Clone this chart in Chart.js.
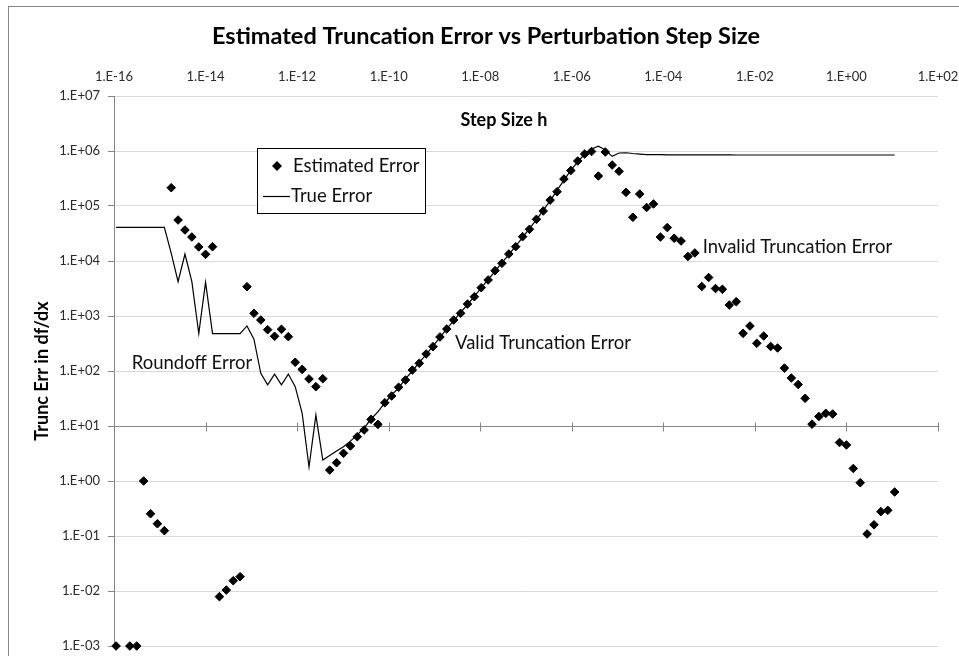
<!DOCTYPE html>
<html>
<head>
<meta charset="utf-8">
<script src="https://cdn.jsdelivr.net/npm/chart.js@4.4.1/dist/chart.umd.min.js"></script>
<style>
  html, body { margin: 0; padding: 0; background: #fff; }
  canvas { display: block; }
</style>
</head>
<body>
<canvas id="chart" width="959" height="656"></canvas>
<script>
// Perturbation step sizes h (2^-53 up to 2^3.5, half-power-of-two steps)
const stepSizes = [
  1.11e-16, 1.57e-16, 2.22e-16, 3.14e-16, 4.44e-16, 6.28e-16, 8.88e-16, 1.26e-15, 1.78e-15, 2.51e-15,
  3.55e-15, 5.02e-15, 7.11e-15, 1.00e-14, 1.42e-14, 2.01e-14, 2.84e-14, 4.02e-14, 5.68e-14, 8.04e-14,
  1.14e-13, 1.61e-13, 2.27e-13, 3.22e-13, 4.55e-13, 6.43e-13, 9.09e-13, 1.29e-12, 1.82e-12, 2.57e-12,
  3.64e-12, 5.15e-12, 7.28e-12, 1.03e-11, 1.46e-11, 2.06e-11, 2.91e-11, 4.12e-11, 5.82e-11, 8.23e-11,
  1.16e-10, 1.65e-10, 2.33e-10, 3.29e-10, 4.66e-10, 6.59e-10, 9.31e-10, 1.32e-9, 1.86e-9, 2.63e-9,
  3.73e-9, 5.27e-9, 7.45e-9, 1.05e-8, 1.49e-8, 2.11e-8, 2.98e-8, 4.22e-8, 5.96e-8, 8.43e-8,
  1.19e-7, 1.69e-7, 2.38e-7, 3.37e-7, 4.77e-7, 6.74e-7, 9.54e-7, 1.35e-6, 1.91e-6, 2.70e-6,
  3.81e-6, 5.39e-6, 7.63e-6, 1.08e-5, 1.53e-5, 2.16e-5, 3.05e-5, 4.32e-5, 6.10e-5, 8.63e-5,
  1.22e-4, 1.73e-4, 2.44e-4, 3.45e-4, 4.88e-4, 6.91e-4, 9.77e-4, 1.38e-3, 1.95e-3, 2.76e-3,
  3.91e-3, 5.52e-3, 7.81e-3, 1.10e-2, 1.56e-2, 2.21e-2, 3.13e-2, 4.42e-2, 6.25e-2, 8.84e-2,
  0.125, 0.177, 0.25, 0.354, 0.5, 0.707, 1, 1.41, 2, 2.83,
  4, 5.66, 8, 11.3
];

// Estimated truncation error of df/dx at each step size (null = not plotted)
const estimatedError = [
  0.001, null, 0.001, 0.001, 1.0, 0.254, 0.167, 0.125, 2.15e5, 5.56e4,
  3.66e4, 2.73e4, 1.80e4, 1.32e4, 1.82e4, 7.9e-3, 1.04e-2, 1.54e-2, 1.82e-2, 3410,
  1120, 845, 564, 428, 573, 421, 144, 107, 71.6, 51.9,
  72.4, 1.58, 2.15, 3.19, 4.33, 6.38, 8.46, 13.2, 10.7, 26.5,
  35.1, 50.6, 68.6, 104, 138, 204, 277, 415, 580, 845,
  1120, 1650, 2240, 3270, 4520, 6670, 9080, 13400, 18200, 27700,
  37700, 57300, 81100, 128000, 182000, 310000, 442000, 658000, 881000, 980000,
  351000, 959000, 556000, 428000, 177000, 62400, 165000, 94000, 109000, 27300,
  40600, 25900, 23100, 12100, 14000, 3440, 5010, 3160, 3060, 1580,
  1820, 484, 658, 319, 433, 279, 262, 113, 74.6, 56.9,
  31.9, 10.8, 14.9, 17.0, 16.5, 5.01, 4.52, 1.69, 0.931, 0.109,
  0.160, 0.277, 0.293, 0.631
];

// True error of df/dx at each step size
const trueError = [
  41000, 41000, 41000, 41000, 41000, 41000, 41000, 41000, 13800, 4200,
  13400, 4200, 480, 4100, 480, 480, 480, 480, 480, 660,
  380, 91, 56, 88, 56, 88, 52, 17, 1.8, 15.8,
  2.4, 2.9, 3.5, 4.2, 5.3, 6.9, 9.2, 13.4, 18, 26.2,
  36.6, 49.5, 71.6, 100, 143, 198, 285, 405, 587, 818,
  1160, 1600, 2300, 3210, 4610, 6500, 9310, 13000, 18900, 26600,
  39200, 55900, 84100, 124000, 194000, 292000, 448000, 637000, 881000, 1090000,
  1220000, 1040000, 800000, 920000, 930000, 900000, 880000, 860000, 860000, 860000,
  850000, 850000, 850000, 850000, 850000, 850000, 850000, 850000, 850000, 850000,
  845000, 845000, 845000, 845000, 845000, 845000, 845000, 845000, 845000, 845000,
  845000, 845000, 845000, 845000, 845000, 845000, 845000, 845000, 845000, 845000,
  845000, 845000, 845000, 845000
];

const xTickValues = [1e-16, 1e-14, 1e-12, 1e-10, 1e-8, 1e-6, 1e-4, 1e-2, 1e0, 1e2];
const xTickLabels = ['1.E-16', '1.E-14', '1.E-12', '1.E-10', '1.E-08', '1.E-06', '1.E-04', '1.E-02', '1.E+00', '1.E+02'];
const yTickValues = [1e-3, 1e-2, 1e-1, 1e0, 1e1, 1e2, 1e3, 1e4, 1e5, 1e6, 1e7];
const yTickLabels = ['1.E-03', '1.E-02', '1.E-01', '1.E+00', '1.E+01', '1.E+02', '1.E+03', '1.E+04', '1.E+05', '1.E+06', '1.E+07'];

// The horizontal (step size) axis crosses the error axis at this value
const xAxisCrossing = 10;

const chartTitle = 'Estimated Truncation Error vs Perturbation Step Size';
const xAxisTitle = 'Step Size h';
const yAxisTitle = 'Trunc Err in df/dx';

// Region notes, anchored in data coordinates (left edge, vertical middle)
const regionNotes = [
  { text: 'Roundoff Error', h: 2.44e-16, err: 137 },
  { text: 'Valid Truncation Error', h: 2.81e-9, err: 327 },
  { text: 'Invalid Truncation Error', h: 7.23e-4, err: 1.82e4 }
];

const FONT = 'Lato, "Open Sans", "Liberation Sans", sans-serif';

const estimatedPoints = [];
stepSizes.forEach((h, i) => {
  if (estimatedError[i] !== null) estimatedPoints.push({ x: h, y: estimatedError[i] });
});
const truePoints = stepSizes.map((h, i) => ({ x: h, y: trueError[i] }));

function diamond(ctx, x, y, r) {
  ctx.beginPath();
  ctx.moveTo(x - r, y);
  ctx.lineTo(x, y - r);
  ctx.lineTo(x + r, y);
  ctx.lineTo(x, y + r);
  ctx.closePath();
  ctx.fill();
}

// Keep tick labels from widening the plot margins
function noOverhang(s) {
  s.paddingLeft = 0;
  s.paddingRight = 0;
  s.paddingTop = 0;
  s.paddingBottom = 0;
}

const decorations = {
  id: 'decorations',
  beforeDraw(chart) {
    const { ctx, width, height } = chart;
    ctx.save();
    ctx.fillStyle = '#ffffff';
    ctx.fillRect(0, 0, width, height);
    ctx.strokeStyle = '#8a8a8a';
    ctx.lineWidth = 1;
    ctx.strokeRect(8.5, 6.5, width + 20, height + 20);
    ctx.restore();
  },
  beforeDatasetsDraw(chart) {
    const { ctx, chartArea, scales: { x, y } } = chart;
    const yy = Math.round(y.getPixelForValue(xAxisCrossing)) + 0.5;
    ctx.save();
    ctx.strokeStyle = '#868686';
    ctx.lineWidth = 1;
    ctx.beginPath();
    ctx.moveTo(chartArea.left, yy);
    ctx.lineTo(chartArea.right, yy);
    xTickValues.forEach(v => {
      const px = Math.round(x.getPixelForValue(v)) + 0.5;
      ctx.moveTo(px, yy - 4);
      ctx.lineTo(px, yy + 5);
    });
    ctx.stroke();
    ctx.restore();
  },
  afterDraw(chart) {
    const { ctx, chartArea, scales: { x, y } } = chart;
    ctx.save();
    ctx.fillStyle = '#000';

    // Title
    ctx.font = 'bold 23.5px ' + FONT;
    ctx.textAlign = 'center';
    ctx.textBaseline = 'middle';
    ctx.fillText(chartTitle, 486, 36);

    // Axis titles
    ctx.font = 'bold 18px ' + FONT;
    ctx.fillText(xAxisTitle, 504, 120);
    ctx.save();
    ctx.translate(42, (chartArea.top + chartArea.bottom) / 2);
    ctx.rotate(-Math.PI / 2);
    ctx.fillText(yAxisTitle, 0, 0);
    ctx.restore();

    // Region notes
    ctx.font = '18.5px ' + FONT;
    ctx.textAlign = 'left';
    ctx.fillStyle = '#111';
    regionNotes.forEach(n => {
      ctx.fillText(n.text, x.getPixelForValue(n.h), y.getPixelForValue(n.err));
    });

    // Legend
    const ds = chart.data.datasets;
    const lx = 257.5, ly = 148.5, lw = 168, lh = 65;
    ctx.fillStyle = '#fff';
    ctx.fillRect(lx, ly, lw, lh);
    ctx.strokeStyle = '#000';
    ctx.lineWidth = 1;
    ctx.strokeRect(lx, ly, lw, lh);
    ctx.fillStyle = '#000';
    diamond(ctx, 277, 166, 5);
    ctx.beginPath();
    ctx.moveTo(263, 196.5);
    ctx.lineTo(290, 196.5);
    ctx.lineWidth = 1.2;
    ctx.stroke();
    ctx.font = '18.5px ' + FONT;
    ctx.fillStyle = '#111';
    ctx.fillText(ds[0].label, 293, 166);
    ctx.fillText(ds[1].label, 291, 196);
    ctx.restore();
  }
};

new Chart(document.getElementById('chart'), {
  type: 'scatter',
  data: {
    datasets: [
      {
        label: 'Estimated Error',
        data: estimatedPoints,
        pointStyle: 'rectRot',
        pointRadius: 4.3,
        pointBorderWidth: 1,
        backgroundColor: '#000',
        borderColor: '#000',
        showLine: false,
        clip: false
      },
      {
        label: 'True Error',
        data: truePoints,
        showLine: true,
        borderColor: '#000',
        borderWidth: 1.2,
        pointRadius: 0,
        tension: 0,
        clip: false
      }
    ]
  },
  options: {
    responsive: false,
    animation: false,
    devicePixelRatio: 1,
    layout: { padding: { left: 0, right: 21, top: 0, bottom: 10 } },
    plugins: {
      legend: { display: false },
      tooltip: { enabled: false },
      title: { display: false }
    },
    scales: {
      x: {
        type: 'logarithmic',
        position: 'top',
        min: 1e-16,
        max: 1e2,
        grid: { display: false },
        border: { display: false },
        ticks: {
          autoSkip: false,
          maxRotation: 0,
          padding: 3,
          color: '#2a2a2a',
          font: { family: FONT, size: 13 },
          callback: (v, i) => xTickLabels[i]
        },
        afterBuildTicks: s => { s.ticks = xTickValues.map(v => ({ value: v })); },
        afterFit: s => { s.height = 96; noOverhang(s); }
      },
      y: {
        type: 'logarithmic',
        position: 'left',
        min: 1e-3,
        max: 1e7,
        grid: { color: '#d9d9d9', tickColor: '#868686', tickLength: 6, lineWidth: 1 },
        border: { color: '#868686', width: 1 },
        ticks: {
          autoSkip: false,
          padding: 8,
          color: '#2a2a2a',
          font: { family: FONT, size: 13 },
          callback: (v, i) => yTickLabels[i]
        },
        afterBuildTicks: s => { s.ticks = yTickValues.map(v => ({ value: v })); },
        afterFit: s => { s.width = 114; noOverhang(s); }
      }
    }
  },
  plugins: [decorations]
});
</script>
</body>
</html>
